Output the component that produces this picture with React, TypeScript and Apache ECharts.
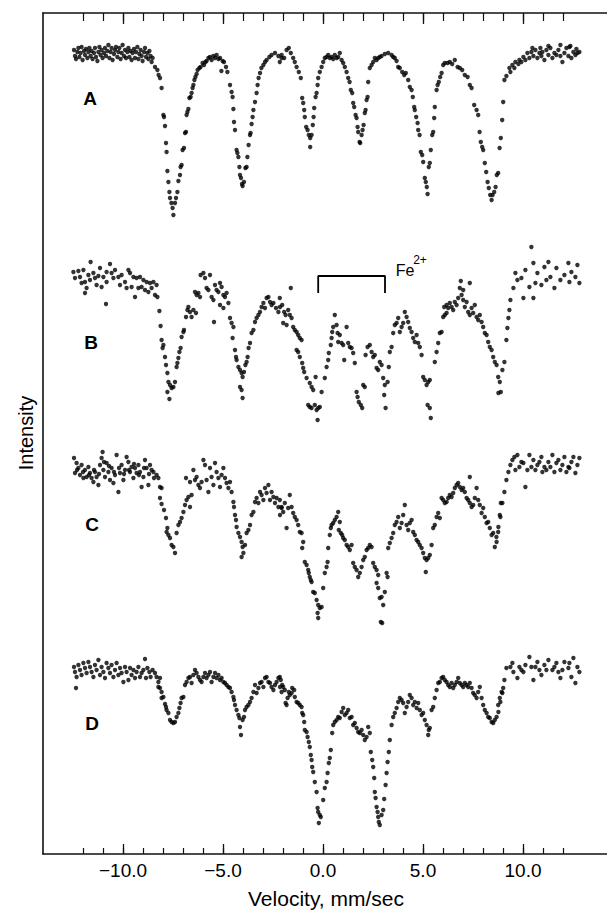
import React, { useEffect, useRef } from "react";
import * as echarts from "echarts";

// Velocity axis (mm/sec)
const velocityTicks = [-12, -11, -10, -9, -8, -7, -6, -5, -4, -3, -2, -1, 0, 1, 2, 3, 4, 5, 6, 7, 8, 9, 10, 11, 12];
const labeledVelocities = [-10, -5, 0, 5, 10];

// Spectra: [velocity mm/sec, relative intensity (baseline ~100, arbitrary units)]
const spectrumLabels = ["A", "B", "C", "D"];
const spectrumOffsets = [702, 474, 284, 82];

const spectrumA: number[][] = [
  [-12.45,102],[-12.40,96],[-12.35,93],[-12.28,100],[-12.23,104],[-12.18,95],[-12.12,99],[-12.07,105],[-12.02,92],[-11.95,101],[-11.90,97],[-11.85,103],[-11.78,94],[-11.73,100],[-11.68,104],[-11.62,96],[-11.57,101],[-11.52,93],[-11.45,99],[-11.40,104],[-11.35,95],[-11.28,91],[-11.23,100],[-11.18,105],[-11.12,97],[-11.07,102],[-11.02,94],[-10.95,99],[-10.90,104],[-10.85,96],[-10.78,101],[-10.73,107],[-10.68,94],[-10.62,100],[-10.57,104],[-10.52,92],[-10.45,98],[-10.40,102],[-10.35,105],[-10.28,95],[-10.23,100],[-10.18,104],[-10.12,93],[-10.07,99],[-10.02,107],[-9.95,96],[-9.90,102],[-9.85,94],[-9.78,100],[-9.73,104],[-9.68,95],[-9.62,101],[-9.57,92],[-9.52,99],[-9.45,103],[-9.40,94],[-9.35,100],[-9.28,105],[-9.23,93],[-9.18,98],[-9.12,102],[-9.07,96],[-9.02,91],[-8.95,100],[-8.90,104],[-8.85,95],[-8.78,99],[-8.73,93],[-8.68,101],[-8.62,96],[-8.57,90],[-8.52,94],
  [-8.40,85],[-8.28,82],[-8.22,77],[-8.15,74],[-8.07,64],[-7.98,37],[-7.95,35],[-7.90,26],[-7.85,9],[-7.82,0],[-7.78,-19],[-7.73,-30],[-7.68,-40],[-7.65,-46],[-7.58,-51],[-7.52,-56],[-7.48,-63],[-7.40,-51],[-7.35,-46],[-7.28,-40],[-7.23,-29],[-7.15,-23],[-7.12,-15],[-7.07,-13],[-7.02,2],[-6.95,4],[-6.90,19],[-6.85,20],[-6.82,37],[-6.78,40],[-6.73,43],[-6.68,54],[-6.62,55],[-6.57,59],[-6.52,64],[-6.48,67],[-6.43,72],[-6.38,75],[-6.32,78],[-6.27,82],[-6.18,84],[-6.12,85],[-6.02,89],[-5.95,87],[-5.88,90],[-5.82,91],[-5.73,94],[-5.65,95],[-5.57,92],[-5.48,96],[-5.40,94],[-5.32,97],[-5.23,93],[-5.15,94],[-5.08,81],[-5.02,91],[-4.95,90],[-4.85,85],[-4.78,80],
  [-4.65,67],[-4.57,60],[-4.52,55],[-4.48,43],[-4.45,30],[-4.40,22],[-4.32,2],[-4.28,-1],[-4.23,-5],[-4.18,-15],[-4.15,-23],[-4.10,-26],[-4.05,-32],[-4.02,-34],[-3.95,-30],[-3.88,-16],[-3.82,-15],[-3.78,-5],[-3.72,7],[-3.65,17],[-3.62,19],[-3.57,28],[-3.52,35],[-3.48,42],[-3.40,50],[-3.32,59],[-3.27,67],[-3.22,74],[-3.15,79],[-3.08,84],[-2.98,87],[-2.90,90],[-2.82,92],[-2.68,95],[-2.57,97],[-2.40,99],[-2.23,96],[-2.07,94],
  [-2.16,90],[-2.07,97],[-1.94,94],[-1.82,102],[-1.71,104],[-1.61,99],[-1.49,94],[-1.41,90],[-1.32,85],[-1.21,80],[-1.11,74],
  [-1.04,54],[-0.99,49],[-0.94,42],[-0.91,35],[-0.84,25],[-0.77,22],[-0.71,17],[-0.64,14],[-0.64,5],[-0.57,17],[-0.51,27],[-0.47,35],[-0.44,44],[-0.37,55],[-0.32,59],[-0.27,67],[-0.24,74],[-0.16,80],[-0.07,85],[0.01,90],[0.09,94],[0.18,95],[0.26,97],[0.34,94],[0.43,95],[0.51,93],[0.59,97],[0.68,94],[0.76,95],[0.84,99],[0.93,92],[1.01,89],[1.09,85],[1.18,80],[1.26,74],[1.33,70],[1.39,62],[1.46,59],[1.51,49],[1.56,45],[1.63,37],[1.68,34],[1.73,25],[1.76,20],[1.83,10],[1.86,9],[1.93,17],[1.98,22],[2.03,27],[2.09,39],[2.13,42],[2.18,52],[2.23,55],[2.26,70],[2.34,84],[2.43,87],[2.51,90],[2.59,94],[2.68,92],[2.76,94],[2.84,95],[2.93,96],[3.09,98],[3.26,99],[3.43,97],[3.51,95],[3.59,94],[3.68,91],[3.76,85],[3.84,84],[3.96,80],[4.06,77],[4.14,79],[4.26,72],[4.34,65],[4.43,62],[4.49,55],[4.56,45],[4.59,42],[4.66,35],[4.73,29],[4.76,22],[4.83,17],[4.89,0],[4.96,-3],[5.01,-10],[5.09,-26],[5.14,-30],[5.19,-35],[5.23,-42],[5.29,-15],[5.34,-11],[5.39,2],[5.46,17],[5.51,20],[5.56,34],[5.59,45],[5.68,62],[5.73,67],[5.79,70],[5.86,75],[5.93,79],[6.01,87],[6.09,89],[6.23,89],[6.34,90],[6.46,88],[6.59,92],[6.73,85],[6.84,84],[6.96,82],[7.09,77],[7.23,75],[7.34,67],[7.43,64],[7.56,47],[7.68,42],[7.76,37],[7.83,20],[7.89,10],[7.96,5],[8.01,2],[8.09,-11],[8.16,-20],[8.23,-30],[8.29,-36],[8.36,-43],[8.43,-48],[8.48,-43],[8.56,-40],[8.63,-35],[8.69,-23],[8.76,-21],[8.83,4],[8.89,14],[8.96,32],[9.01,50],
  [9.07,72],[9.17,76],[9.32,84],[9.47,87],[9.62,90],[9.82,92],[10.02,95],[10.22,99],[10.42,100],[10.62,102],[10.82,99],[10.97,100],[11.17,102],[11.37,104],[11.57,99],[11.77,102],[11.97,90],[12.17,104],[12.32,105],[12.52,100],[12.72,99],
  [9.37,80],[9.57,84],[9.77,88],[9.92,90],[10.12,92],[10.32,94],[10.52,96],[10.72,94],[10.92,96],[11.07,92],[11.27,97],[11.47,94],[11.67,97],[11.87,96],[12.07,99],[12.27,96],[12.42,94],[12.62,97],[12.82,100],[11.27,106],[10.87,104],[10.47,104],[11.87,107],[12.37,106],[12.67,103]
];

const spectrumB: number[][] = [
  [-11.62,118],[-10.65,116],[-11.15,112],[-12.48,108],[-12.23,109],[-11.98,110],[-11.73,105],[-11.48,107],[-12.40,102],[-12.15,103],[-11.90,98],[-11.65,100],[-11.40,102],[-11.23,104],[-10.98,103],[-10.82,108],[-10.57,107],[-10.40,110],[-10.23,103],[-10.07,105],[-9.90,98],[-9.73,110],[-9.65,107],[-9.48,103],[-9.32,102],[-9.15,103],[-8.98,100],[-8.82,98],[-8.65,97],[-8.48,98],[-8.32,95],[-12.07,97],[-11.82,92],[-11.90,87],[-11.32,95],[-11.07,93],[-10.82,98],[-10.48,102],[-10.15,95],[-9.82,92],[-9.57,93],[-9.40,83],[-9.23,92],[-9.07,93],[-8.90,90],[-8.73,88],[-8.57,92],[-8.40,85],[-8.28,83],[-10.85,76],
  [-8.18,69],[-8.12,54],[-8.07,40],[-7.98,35],[-8.02,32],[-7.90,23],[-7.85,15],[-7.78,7],[-7.73,-2],[-7.65,-5],[-7.78,-12],[-7.68,-19],[-7.57,-8],[-7.48,-7],[-7.40,-2],[-7.32,13],[-7.28,17],[-7.23,22],[-7.18,28],[-7.12,32],[-7.07,43],[-6.98,48],[-6.95,50],[-6.85,63],[-6.78,70],[-6.73,73],[-6.65,68],[-6.57,63],[-6.48,70],[-6.35,67],[-6.40,88],[-6.32,85],[-6.23,87],[-6.15,83],[-6.12,105],[-5.90,102],[-5.98,107],[-5.65,105],[-5.82,92],[-5.73,90],[-5.57,83],[-5.48,80],[-5.40,95],[-5.32,90],[-5.23,88],[-5.15,97],[-5.07,93],[-4.98,85],[-4.90,83],[-4.82,87],[-4.73,77],[-5.15,75],[-4.98,72],[-5.45,58],
  [-4.65,62],[-4.57,57],[-4.48,53],[-4.52,42],[-4.40,30],[-4.35,23],[-4.32,20],[-4.23,13],[-4.15,10],[-4.07,7],[-4.02,3],[-4.15,-7],[-4.07,-10],[-4.02,-18],[-3.95,8],[-3.88,15],[-3.82,18],[-3.77,23],[-3.72,32],[-3.65,37],[-3.57,47],[-3.48,50],[-3.40,58],[-3.32,62],[-3.23,65],[-3.15,68],[-3.07,73],[-2.98,77],[-2.90,72],[-2.82,82],[-2.73,83],[-2.65,78],[-2.57,75],[-2.48,77],[-2.35,72],[-2.23,68],[-2.15,73],
  [-2.16,82],[-2.04,75],[-1.94,68],[-1.87,65],[-1.74,70],[-1.66,65],[-1.57,62],[-1.61,92],[-1.82,55],[-1.99,57],[-1.49,53],[-1.41,50],[-1.32,48],[-1.24,45],[-1.16,42],[-1.07,40],[-1.24,28],[-1.32,30],[-1.16,23],[-1.04,17],[-0.99,12],[-0.94,8],[-0.82,2],[-0.66,-3],[-0.57,-7],[-0.49,-10],[-0.37,3],[-0.74,-25],[-0.66,-27],[-0.57,-28],[-0.41,-25],[-0.32,-30],[-0.24,-28],[-0.16,-27],[-0.27,-40],[-0.07,-12],[0.09,2],[0.18,13],[0.26,20],[0.29,27],[0.39,35],[0.43,42],[0.46,48],[0.51,53],[0.59,65],[0.68,55],[0.73,47],[0.76,38],[0.84,45],[0.93,37],[1.01,35],[1.06,20],[1.18,53],[1.26,37],[1.34,33],[1.43,32],[1.51,27],[1.59,17],[1.68,-12],[1.73,-17],[1.79,-22],[1.89,-25],[1.96,-28],[2.01,-5],[2.09,-7],[2.13,25],[2.23,33],[2.34,35],[2.43,28],[2.51,23],[2.59,25],[2.68,12],[2.76,10],[2.84,18],[2.93,15],[3.01,2],[3.06,-15],[3.13,-28],[3.09,-5],[3.23,-2],[3.29,13],[3.34,28],[3.43,33],[3.51,47],[3.59,55],[3.68,57],[3.76,62],[3.84,48],[3.93,53],[4.01,57],[4.09,68],[4.18,63],[4.26,58],[4.34,52],[4.43,48],[4.51,42],[4.59,38],[4.68,45],[4.76,37],[4.84,33],[4.93,25],[5.01,3],[5.09,0],[5.18,-5],[5.26,-2],[5.34,0],[5.23,-25],[5.34,-28],[5.39,-38],[5.59,18],[5.68,28],[5.76,37],[5.84,47],[5.93,48],[6.01,63],[6.09,65],[6.18,67],[6.06,73],[6.18,75],[6.26,72],[6.34,77],[6.43,73],[6.51,70],[6.59,78],[6.68,75],[6.76,82],[6.84,92],[6.93,85],[7.01,80],[7.09,73],[7.18,78],[7.26,68],[7.34,65],[7.43,72],[7.51,67],[7.59,75],[7.68,63],[7.76,60],[7.84,65],[7.93,58],[8.01,53],[8.09,47],[8.18,45],[8.26,38],[8.34,33],[8.43,30],[8.51,23],[8.59,18],[8.68,15],[8.76,3],[8.84,-2],[8.89,-12],[7.34,97],[6.89,99],[7.01,90],
  [8.77,-13],[8.97,10],[9.07,18],[9.17,40],[9.22,52],[9.27,62],[9.32,70],[9.37,80],[9.52,92],[9.72,100],[9.62,107],[9.92,102],[10.02,82],[10.12,110],[10.32,93],[10.52,117],[10.62,97],[10.72,107],[10.92,95],[11.07,113],[11.17,100],[11.27,118],[11.37,103],[11.57,92],[11.67,112],[11.87,100],[12.07,105],[12.27,117],[12.32,98],[12.42,108],[12.62,103],[12.72,115],[12.82,97],[10.52,82],[10.42,133]
];

const spectrumC: number[][] = [
  [-12.45,112],[-12.32,107],[-12.23,102],[-12.40,97],[-12.15,95],[-12.07,105],[-11.98,92],[-11.90,100],[-11.82,93],[-11.73,103],[-11.65,97],[-11.57,92],[-11.48,88],[-11.40,98],[-11.32,93],[-11.23,85],[-11.15,105],[-11.07,112],[-11.02,118],[-10.98,100],[-10.90,93],[-10.82,107],[-10.73,98],[-10.65,90],[-10.57,102],[-10.48,87],[-10.40,95],[-10.32,115],[-10.23,78],[-10.15,97],[-10.07,105],[-9.98,90],[-9.90,100],[-9.82,113],[-9.73,108],[-9.65,98],[-9.57,103],[-9.48,92],[-9.40,102],[-9.32,97],[-9.23,105],[-9.15,98],[-9.07,83],[-8.98,93],[-8.90,110],[-8.82,102],[-8.73,85],[-8.65,105],[-8.57,100],[-8.48,98],[-8.32,95],[-8.23,92],[-8.15,83],[-8.07,82],
  [-12.30,100],[-12.00,98],[-11.70,95],[-11.45,100],[-11.20,96],[-10.95,108],[-10.70,104],[-10.45,98],[-10.20,102],[-9.95,96],[-9.70,100],[-9.45,106],[-9.20,95],[-8.95,102],[-8.70,96],[-8.45,92],
  [-8.15,72],[-8.07,66],[-7.95,60],[-7.85,52],[-7.78,42],[-7.82,38],[-7.73,35],[-7.65,32],[-7.57,25],[-7.48,23],[-7.40,17],[-7.32,37],[-7.23,45],[-7.15,48],[-7.07,52],[-6.98,58],[-6.90,65],[-6.82,70],[-6.73,73],[-6.65,63],[-6.57,75],[-6.85,92],[-6.65,88],[-6.48,100],[-6.40,90],[-6.32,93],[-6.23,85],[-6.15,82],[-6.07,88],[-5.98,110],[-5.90,105],[-5.82,90],[-5.73,78],[-5.65,102],[-5.57,93],[-5.48,85],[-5.40,107],[-5.32,98],[-5.23,92],[-5.15,83],[-5.07,95],[-4.98,102],[-4.90,92],[-4.82,87],[-4.73,82],[-4.65,88],[-4.57,78],
  [-4.48,68],[-4.45,63],[-4.40,55],[-4.35,50],[-4.32,43],[-4.23,37],[-4.15,33],[-4.07,28],[-4.02,23],[-3.98,17],[-4.07,13],[-3.90,25],[-3.82,37],[-3.73,40],[-3.65,45],[-3.57,55],[-3.48,58],[-3.40,68],[-3.32,72],[-3.23,67],[-3.15,78],[-3.07,75],[-2.98,70],[-2.90,82],[-2.82,77],[-2.73,85],[-2.65,70],[-2.57,78],[-2.48,73],[-2.40,67],[-2.32,72],[-2.23,63],[-2.15,55],[-2.07,62],
  [-2.16,70],[-2.07,63],[-1.99,58],[-1.91,67],[-1.82,42],[-1.74,62],[-1.66,75],[-1.57,63],[-1.49,57],[-1.41,53],[-1.32,50],[-1.24,45],[-1.16,38],[-1.07,37],[-0.99,28],[-1.04,22],[-0.91,8],[-0.82,5],[-0.74,0],[-0.71,-3],[-0.66,-7],[-0.61,-10],[-0.57,-12],[-0.49,-22],[-0.41,-23],[-0.32,-30],[-0.24,-35],[-0.16,-38],[-0.07,-37],[-0.27,-43],[-0.24,-48],[0.01,-18],[0.09,-3],[0.18,3],[0.23,8],[0.26,22],[0.34,35],[0.39,42],[0.43,45],[0.51,47],[0.59,50],[0.68,53],[0.76,58],[0.79,40],[0.84,48],[0.89,37],[0.96,35],[1.01,32],[1.09,30],[1.18,25],[1.26,23],[1.34,20],[1.43,25],[1.51,7],[1.59,3],[1.68,0],[1.76,-7],[1.84,-3],[1.93,3],[2.01,10],[2.09,13],[2.18,20],[2.26,22],[2.34,25],[2.43,23],[2.51,7],[2.59,3],[2.68,0],[2.76,-5],[2.68,-13],[2.76,-18],[2.84,-28],[2.93,-27],[3.01,-35],[3.09,-22],[3.18,-3],[3.23,-7],[2.89,-52],[2.96,-53],[3.26,22],[3.34,27],[3.43,32],[3.51,37],[3.59,45],[3.68,48],[3.76,53],[3.84,42],[3.93,47],[4.01,55],[4.09,65],[4.18,45],[4.26,40],[4.34,47],[4.43,50],[4.51,38],[4.59,35],[4.68,30],[4.76,28],[4.84,25],[4.93,22],[5.01,17],[5.09,12],[5.18,10],[5.26,12],[5.34,15],[5.43,25],[5.14,-2],[5.51,42],[5.59,45],[5.68,53],[5.76,57],[5.84,52],[5.93,72],[6.01,70],[6.09,67],[6.18,68],[6.26,72],[6.34,75],[6.43,73],[6.51,77],[6.59,82],[6.68,85],[6.76,87],[6.84,83],[6.93,80],[7.01,82],[7.09,78],[7.18,72],[7.26,70],[7.34,93],[7.34,67],[7.43,63],[7.51,65],[7.59,72],[7.68,82],[7.76,70],[7.84,65],[7.93,57],[8.01,62],[8.09,53],[8.18,47],[8.26,48],[8.34,42],[8.43,35],[8.51,37],[8.59,23],[8.68,28],[8.76,38],[8.84,55],[8.89,67],
  [8.67,33],[8.77,43],[8.87,53],[8.97,67],[9.07,78],[9.17,90],[9.27,98],[9.37,105],[9.47,110],[9.57,113],[9.72,115],[9.92,108],[10.12,83],[10.32,115],[10.52,110],[10.72,105],[10.92,113],[11.07,103],[11.27,108],[11.47,115],[11.67,107],[11.87,100],[12.07,113],[12.27,103],[12.42,108],[12.62,97],[12.72,105],[12.82,112],[9.62,100],[9.82,103],[10.02,107],[10.22,100],[10.42,103],[10.62,100],[10.82,108],[10.97,98],[11.17,100],[11.37,103],[11.57,98],[11.77,110],[11.97,105],[12.17,98],[12.32,102],[12.52,113]
];

const spectrumD: number[][] = [
  [-12.45,105],[-12.40,100],[-12.32,95],[-12.35,84],[-12.23,107],[-12.15,102],[-12.07,97],[-11.98,109],[-11.90,104],[-11.82,99],[-11.73,110],[-11.65,105],[-11.57,100],[-11.48,95],[-11.40,107],[-11.32,102],[-11.23,112],[-11.15,97],[-11.07,105],[-10.98,100],[-10.90,94],[-10.82,109],[-10.73,104],[-10.65,99],[-10.57,107],[-10.48,95],[-10.40,102],[-10.32,109],[-10.23,97],[-10.15,104],[-10.07,99],[-9.98,90],[-9.90,105],[-9.82,100],[-9.73,92],[-9.65,104],[-9.57,97],[-9.48,102],[-9.40,94],[-9.32,100],[-9.23,105],[-9.15,95],[-9.07,99],[-8.98,102],[-8.90,113],[-8.85,94],[-8.78,104],[-8.68,100],[-8.62,95],[-8.52,102],[-8.40,99],[-8.32,95],[-8.23,90],[-8.15,94],
  [-8.23,85],[-8.15,84],[-8.07,80],[-8.07,74],[-7.98,75],[-7.90,68],[-7.85,65],[-7.82,62],[-7.73,59],[-7.65,52],[-7.57,50],[-7.48,49],[-7.40,50],[-7.32,55],[-7.23,59],[-7.18,64],[-7.12,69],[-7.07,74],[-6.98,75],[-6.90,87],[-6.82,90],[-6.73,94],[-6.65,95],[-6.57,89],[-6.48,97],[-6.40,102],[-6.32,99],[-6.23,95],[-6.15,92],[-6.07,90],[-5.98,95],[-5.90,99],[-5.82,94],[-5.73,97],[-5.65,100],[-5.57,90],[-5.48,95],[-5.40,99],[-5.32,94],[-5.23,97],[-5.15,92],[-5.07,94],[-4.98,90],[-4.90,89],[-4.82,87],[-4.73,85],[-4.65,84],[-4.57,80],[-4.48,75],[-4.45,72],[-4.40,67],[-4.32,62],[-4.23,57],[-4.18,54],[-4.15,45],[-4.10,37],[-4.02,52],[-3.95,55],[-3.90,62],[-3.82,65],[-3.73,67],[-3.65,70],[-3.57,74],[-3.48,80],[-3.40,87],[-3.32,79],[-3.23,84],[-3.15,89],[-3.07,90],[-2.98,85],[-2.90,94],[-2.82,95],[-2.73,90],[-2.65,89],[-2.57,85],[-2.48,82],[-2.40,87],[-2.32,90],[-2.23,94],[-2.15,85],[-2.07,80],
  [-2.16,95],[-2.11,92],[-2.04,87],[-1.99,85],[-1.91,82],[-1.87,69],[-1.82,67],[-1.77,74],[-1.71,80],[-1.66,77],[-1.57,79],[-1.54,84],[-1.44,82],[-1.41,75],[-1.32,70],[-1.24,69],[-1.16,67],[-1.07,65],[-1.04,59],[-0.99,57],[-0.94,50],[-0.91,42],[-0.82,40],[-0.77,35],[-0.71,30],[-0.66,25],[-0.61,17],[-0.57,12],[-0.54,5],[-0.49,0],[-0.41,-10],[-0.32,-20],[-0.27,-36],[-0.24,-40],[-0.16,-43],[-0.11,-45],[-0.21,-51],[0.01,-28],[0.09,-16],[0.18,-10],[0.23,-1],[0.29,9],[0.34,14],[0.39,22],[0.46,39],[0.51,47],[0.59,50],[0.68,52],[0.76,55],[0.84,54],[0.93,60],[1.01,64],[1.09,57],[1.18,59],[1.26,62],[1.34,54],[1.43,55],[1.51,47],[1.59,49],[1.68,44],[1.76,40],[1.84,39],[1.93,42],[2.01,37],[2.09,32],[2.18,35],[2.26,45],[2.34,39],[2.39,20],[2.46,12],[2.51,5],[2.56,-6],[2.59,-20],[2.63,-26],[2.68,-35],[2.73,-40],[2.76,-45],[2.79,-50],[2.84,-53],[2.93,-43],[3.01,-38],[3.06,-27],[3.13,-13],[3.18,-1],[3.23,10],[3.29,20],[3.34,32],[3.43,47],[3.51,55],[3.59,59],[3.68,64],[3.76,70],[3.84,74],[3.93,72],[4.01,69],[4.09,59],[4.18,65],[4.26,70],[4.34,77],[4.43,74],[4.51,67],[4.59,70],[4.68,64],[4.76,69],[4.84,62],[4.93,57],[5.01,59],[5.09,52],[5.18,47],[5.26,37],[5.29,42],[5.34,44],[5.43,62],[5.51,65],[5.59,74],[5.68,82],[5.76,89],[5.84,90],[5.93,94],[6.01,95],[6.09,92],[6.18,90],[6.26,87],[6.34,85],[6.43,89],[6.51,84],[6.59,87],[6.68,90],[6.76,94],[6.84,89],[6.93,87],[7.01,85],[7.09,89],[7.18,87],[7.26,85],[7.34,89],[7.43,84],[7.51,79],[7.59,77],[7.68,74],[7.76,80],[7.84,85],[7.93,74],[8.01,67],[8.09,62],[8.18,59],[8.26,55],[8.34,54],[8.43,50],[8.51,49],[8.59,52],[8.68,55],[8.76,67],[8.84,74],[8.93,80],[9.01,84],
  [8.77,60],[8.87,70],[8.97,79],[9.07,92],[9.17,104],[9.37,105],[9.52,100],[9.72,94],[9.92,102],[10.12,107],[10.32,115],[10.52,92],[10.62,105],[10.72,110],[10.92,97],[11.07,107],[11.27,112],[11.47,102],[11.67,109],[11.87,94],[12.07,110],[12.27,104],[12.42,95],[12.52,114],[12.62,89],[12.72,105],[12.82,100],[9.47,109],[9.82,105],[10.02,100],[10.42,105],[10.82,102],[11.17,102],[11.57,105],[11.97,102],[12.32,109],[11.77,100]
];

const spectra = [spectrumA, spectrumB, spectrumC, spectrumD];

// Fe2+ doublet bracket drawn over spectrum B (velocity, intensity in B units)
const fe2BracketVelocity = [-0.24, 3.1];
const fe2BracketIntensity = [87, 104];

const FONT = "'Liberation Sans', Arial, Helvetica, sans-serif";
const INK = "#000";

export default function App() {
  const ref = useRef<HTMLDivElement>(null);

  useEffect(() => {
    if (!ref.current) return;
    const chart = echarts.init(ref.current, undefined, { renderer: "svg" });
    const fmt = (v: number) => (v < 0 ? "\u2212" : "") + Math.abs(v).toFixed(1);
    const xBase = {
      type: "value",
      min: -14,
      max: 14.2,
      splitLine: { show: false },
    };
    const lineStyle = { color: "#111", width: 1.6 };
    const offB = spectrumOffsets[1];
    const letter = (t: string, x: number, y: number) => ({
      type: "text", x, y,
      style: { text: t, fontSize: 19, fontWeight: "bold", fill: INK, fontFamily: FONT, align: "center", verticalAlign: "middle" },
    });
    const option: any = {
      animation: false,
      backgroundColor: "#fff",
      grid: { left: 43, right: 0, top: 13, bottom: 57, containLabel: false },
      xAxis: [
        {
          ...xBase,
          position: "bottom",
          axisLine: { show: true, onZero: false, lineStyle },
          axisTick: { show: true, inside: true, length: 10, customValues: labeledVelocities, lineStyle: { color: "#111", width: 1.3 } },
          axisLabel: { show: true, customValues: labeledVelocities, formatter: fmt, fontSize: 19, color: INK, fontFamily: FONT, margin: 7 },
        },
        {
          ...xBase,
          position: "bottom",
          axisLine: { show: false, onZero: false },
          axisTick: { show: true, inside: true, length: 6, customValues: velocityTicks, lineStyle: { color: "#111", width: 1.2 } },
          axisLabel: { show: false },
        },
        {
          ...xBase,
          position: "top",
          axisLine: { show: true, onZero: false, lineStyle },
          axisTick: { show: true, inside: true, length: 11, customValues: labeledVelocities, lineStyle: { color: "#111", width: 1.3 } },
          axisLabel: { show: false },
        },
        {
          ...xBase,
          position: "top",
          axisLine: { show: false, onZero: false },
          axisTick: { show: true, inside: true, length: 8, customValues: velocityTicks, lineStyle: { color: "#111", width: 1.2 } },
          axisLabel: { show: false },
        },
      ],
      yAxis: {
        type: "value",
        min: 0,
        max: 841,
        axisLine: { show: true, onZero: false, lineStyle },
        axisTick: { show: false },
        axisLabel: { show: false },
        splitLine: { show: false },
      },
      series: [
        ...spectra.map((pts, i) => ({
          name: spectrumLabels[i],
          type: "scatter",
          xAxisIndex: 0,
          symbol: "circle",
          symbolSize: 4.4,
          itemStyle: { color: INK },
          data: pts.map(([v, y]) => [v, y + spectrumOffsets[i]]),
          silent: true,
        })),
        {
          type: "line",
          xAxisIndex: 0,
          symbol: "none",
          lineStyle: { color: INK, width: 1.8 },
          data: [
            [fe2BracketVelocity[0], fe2BracketIntensity[0] + offB],
            [fe2BracketVelocity[0], fe2BracketIntensity[1] + offB],
            [fe2BracketVelocity[1], fe2BracketIntensity[1] + offB],
            [fe2BracketVelocity[1], fe2BracketIntensity[0] + offB],
          ],
          silent: true,
        },
      ],
      graphic: [
        letter(spectrumLabels[0], 90, 98),
        letter(spectrumLabels[1], 91, 342),
        letter(spectrumLabels[2], 92, 524),
        letter(spectrumLabels[3], 92, 723),
        { type: "text", x: 405, y: 270, style: { text: "Fe", fontSize: 16, fill: INK, fontFamily: FONT, align: "center", verticalAlign: "middle" } },
        { type: "text", x: 420, y: 260, style: { text: "2+", fontSize: 12, fill: INK, fontFamily: FONT, align: "center", verticalAlign: "middle" } },
        { type: "text", x: 326, y: 898, style: { text: "Velocity, mm/sec", fontSize: 21, fill: INK, fontFamily: FONT, align: "center", verticalAlign: "middle" } },
        { type: "text", x: 26, y: 433, rotation: Math.PI / 2, style: { text: "Intensity", fontSize: 20, fill: INK, fontFamily: FONT, align: "center", verticalAlign: "middle" } },
      ],
    };
    chart.setOption(option);
    return () => chart.dispose();
  }, []);

  return (
    <div
      ref={ref}
      style={{ position: "absolute", left: 0, top: 0, width: 607, height: 911, background: "#fff" }}
    />
  );
}
